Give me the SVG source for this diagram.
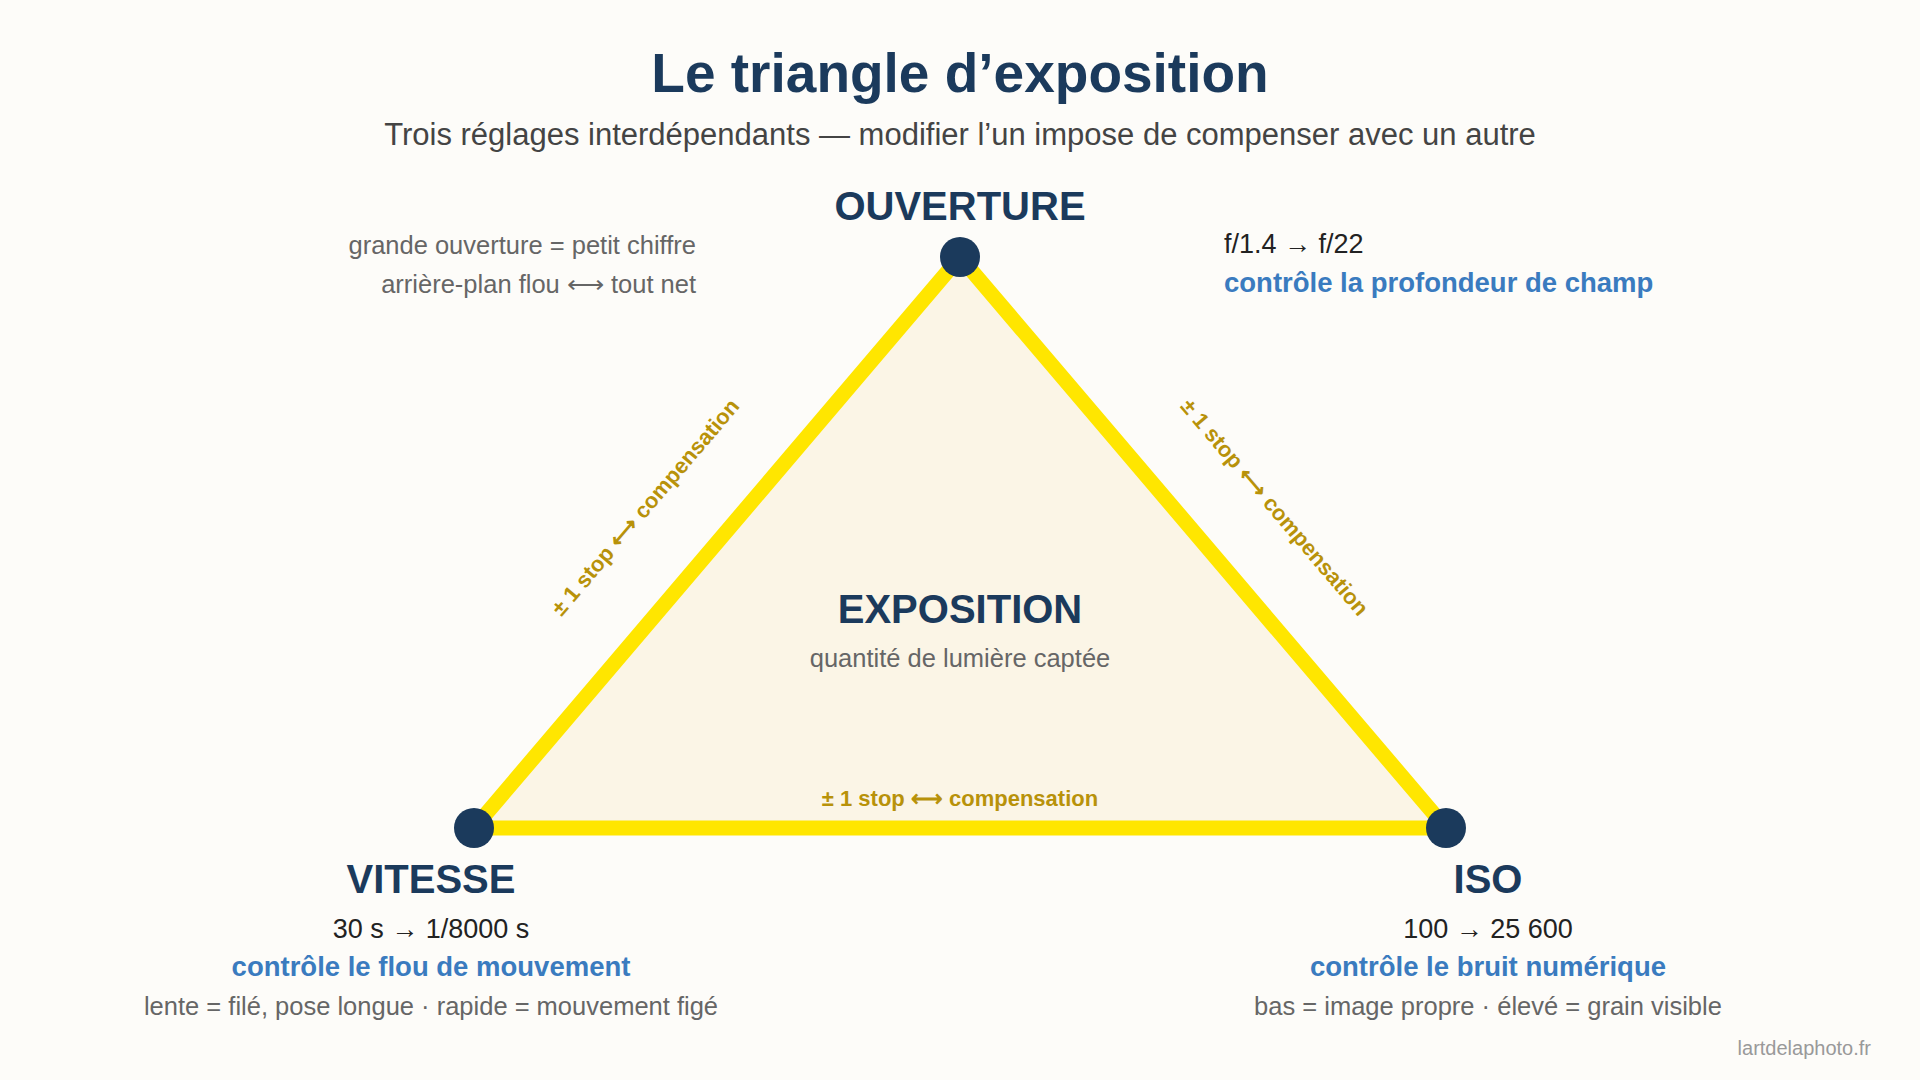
<svg xmlns="http://www.w3.org/2000/svg" width="1920" height="1080" viewBox="0 0 1920 1080">
<style>
text{font-family:"Helvetica Neue","Liberation Sans",Arial,sans-serif}
.t{fill:#1B3A5C;font-weight:bold;text-anchor:middle}
.g{fill:#666;font-size:25.5px}
.d{fill:#222;font-size:27px}
.b{fill:#3A7BBF;font-size:27.5px;font-weight:bold}
.e{fill:#B8920A;font-size:22px;font-weight:bold;text-anchor:middle}
.n{fill:#1B3A5C}
</style>
<rect width="1920" height="1080" fill="#FDFCF9"/>
<text x="960" y="92" class="t" font-size="55">Le triangle d’exposition</text>
<text x="960" y="145" font-size="31" fill="#444" text-anchor="middle">Trois réglages interdépendants — modifier l’un impose de compenser avec un autre</text>
<g id="connectors">
<polygon points="960,257 474,828 1446,828" fill="#FBF5E6" stroke="#FFE600" stroke-width="15" stroke-linejoin="round"/>
<text class="e" transform="translate(651,512) rotate(-49.6)">± 1 stop ⟷ compensation</text>
<text class="e" transform="translate(1269,512) rotate(49.6)">± 1 stop ⟷ compensation</text>
<text class="e" x="960" y="806">± 1 stop ⟷ compensation</text>
</g>
<g id="center">
<text x="960" y="623" class="t" font-size="40">EXPOSITION</text>
<text x="960" y="667" class="g" text-anchor="middle">quantité de lumière captée</text>
</g>
<g id="ouverture">
<circle cx="960" cy="257" r="20" class="n"/>
<text x="960" y="220" class="t" font-size="40">OUVERTURE</text>
<text x="696" y="254" class="g" text-anchor="end">grande ouverture = petit chiffre</text>
<text x="696" y="293" class="g" text-anchor="end">arrière-plan flou ⟷ tout net</text>
<text x="1224" y="253" class="d">f/1.4 → f/22</text>
<text x="1224" y="292" class="b">contrôle la profondeur de champ</text>
</g>
<g id="vitesse">
<circle cx="474" cy="828" r="20" class="n"/>
<text x="431" y="893" class="t" font-size="40">VITESSE</text>
<text x="431" y="938" class="d" text-anchor="middle">30 s → 1/8000 s</text>
<text x="431" y="976" class="b" text-anchor="middle">contrôle le flou de mouvement</text>
<text x="431" y="1015" class="g" text-anchor="middle">lente = filé, pose longue · rapide = mouvement figé</text>
</g>
<g id="iso">
<circle cx="1446" cy="828" r="20" class="n"/>
<text x="1488" y="893" class="t" font-size="40">ISO</text>
<text x="1488" y="938" class="d" text-anchor="middle">100 → 25 600</text>
<text x="1488" y="976" class="b" text-anchor="middle">contrôle le bruit numérique</text>
<text x="1488" y="1015" class="g" text-anchor="middle">bas = image propre · élevé = grain visible</text>
</g>
<text x="1871" y="1055" font-size="20" fill="#999" text-anchor="end">lartdelaphoto.fr</text>
</svg>
